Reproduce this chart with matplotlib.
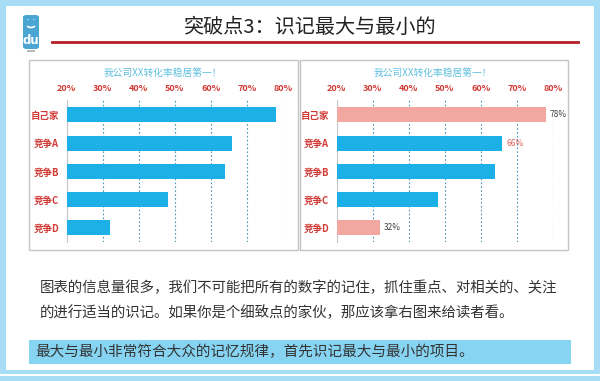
import matplotlib
matplotlib.use("Agg")
import matplotlib.pyplot as plt
from matplotlib.patches import Rectangle, FancyBboxPatch, Arc

plt.rcParams['font.family'] = ['Noto Sans CJK SC', 'DejaVu Sans']

# data
categories = ["自己家", "竞争A", "竞争B", "竞争C", "竞争D"]
rates = [78, 66, 64, 48, 32]
tick_values = [20, 30, 40, 50, 60, 70, 80]
tick_labels = ["20%", "30%", "40%", "50%", "60%", "70%", "80%"]
highlight = [True, False, False, False, True]          # right chart: max & min
shown_labels = {0: "#444444", 1: "#e0605a", 4: "#444444"}  # bars that get a value label

chart_title = "我公司XX转化率稳居第一！"
main_title = "突破点3：识记最大与最小的"
para1 = "图表的信息量很多，我们不可能把所有的数字的记住，抓住重点、对相关的、关注"
para2 = "的进行适当的识记。如果你是个细致点的家伙，那应该拿右图来给读者看。"
note = "最大与最小非常符合大众的记忆规律，首先识记最大与最小的项目。"

W, H = 600, 381
BLUE = "#1cb0e6"
SALMON = "#f3a7a1"
RED = "#d23a36"
FRAME = "#a6ddf4"

fig = plt.figure(figsize=(6, 3.81), dpi=100)


def fx(x):
    return x / W


def fy(y):
    return 1 - y / H


def rect(x0, y0, x1, y1, z=0.1, **kw):
    r = Rectangle((fx(x0), fy(y1)), fx(x1 - x0), (y1 - y0) / H,
                  transform=fig.transFigure, zorder=z, **kw)
    fig.add_artist(r)
    return r


# outer slide frame
rect(0, 0, W, H, z=0.01, facecolor=FRAME, edgecolor="none")
rect(6, 6, 594, 370, z=0.02, facecolor="white", edgecolor="none")
rect(0, 374, W, 376, z=0.02, facecolor="white", edgecolor="none")

# logo
logo = FancyBboxPatch((fx(23), fy(49)), fx(16), 34 / H,
                      boxstyle="round,pad=0,rounding_size=0.006",
                      transform=fig.transFigure, facecolor="#4aa5d2",
                      edgecolor="none")
fig.add_artist(logo)
rect(27, 50, 35, 52, facecolor="#b9b9b9", edgecolor="none")
fig.text(fx(28), fy(21), "•", color="white", fontsize=4, ha="center", va="center")
fig.text(fx(34), fy(21), "•", color="white", fontsize=4, ha="center", va="center")
fig.add_artist(Arc((fx(31), fy(25)), fx(8), 5 / H, theta1=200, theta2=340,
                   transform=fig.transFigure, color="white", lw=1.2))
fig.text(fx(31), fy(40), "du", color="white", fontsize=8.5, fontweight="bold",
         ha="center", va="center", family="DejaVu Sans")

# title and red rule
fig.text(fx(310), fy(27), main_title, fontsize=14.5, color="#222222",
         ha="center", va="center")
fig.add_artist(plt.Line2D([fx(52), fx(578)], [fy(42), fy(42)],
                          transform=fig.transFigure, color="#b52025", lw=2))

# chart panels
rect(29, 60, 298, 250, z=0.05, facecolor="white", edgecolor="#c4c4c4", lw=1)
rect(300, 60, 568, 250, z=0.05, facecolor="white", edgecolor="#c4c4c4", lw=1)


def draw_chart(left_px, title_x, colors, labelled):
    ax = fig.add_axes([fx(left_px), fy(242), fx(216), 142 / H])
    ax.set_zorder(2)
    ypos = list(range(len(categories)))
    ax.barh(ypos, rates, height=0.53, color=colors, zorder=3)
    ax.set_xlim(20, 80)
    ax.set_ylim(4.5, -0.53)
    ax.set_xticks(tick_values)
    ax.set_xticklabels(tick_labels)
    ax.xaxis.tick_top()
    ax.tick_params(axis="x", length=0, pad=5, labelsize=6.5, labelcolor=RED)
    for t in ax.get_xticklabels():
        t.set_fontweight("bold")
    ax.set_yticks(ypos)
    ax.set_yticklabels(categories)
    ax.tick_params(axis="y", length=0, pad=5.5, labelsize=6.8, labelcolor=RED)
    for t in ax.get_yticklabels():
        t.set_fontweight("bold")
    for s in ["top", "right", "bottom"]:
        ax.spines[s].set_visible(False)
    ax.spines["left"].set_color("#c8c8c8")
    ax.grid(axis="x", color="#4d93b8", lw=0.8, linestyle=(0, (1.5, 2)), zorder=1)
    ax.set_facecolor("none")
    for i, col in labelled.items():
        ax.annotate(f"{rates[i]}%", (rates[i], i), xytext=(3, 0),
                    textcoords="offset points", va="center", ha="left",
                    fontsize=6, color=col)
    fig.text(fx(title_x), fy(73), chart_title, fontsize=7, color="#5fbfdf",
             ha="center", va="center")
    return ax


draw_chart(66.7, 163, [BLUE] * len(rates), {})
draw_chart(336.7, 433, [SALMON if h else BLUE for h in highlight], shown_labels)

# paragraph
fig.text(fx(40), fy(288), para1, fontsize=10.4, color="#333333", va="center")
fig.text(fx(40), fy(313), para2, fontsize=10.4, color="#333333", va="center")

# highlighted note
rect(29, 340, 571, 364, z=0.05, facecolor="#86d4f2", edgecolor="none")
fig.text(fx(35), fy(352), note, fontsize=10.5, color="#333333", va="center")

fig.savefig("out.png", dpi=100)
